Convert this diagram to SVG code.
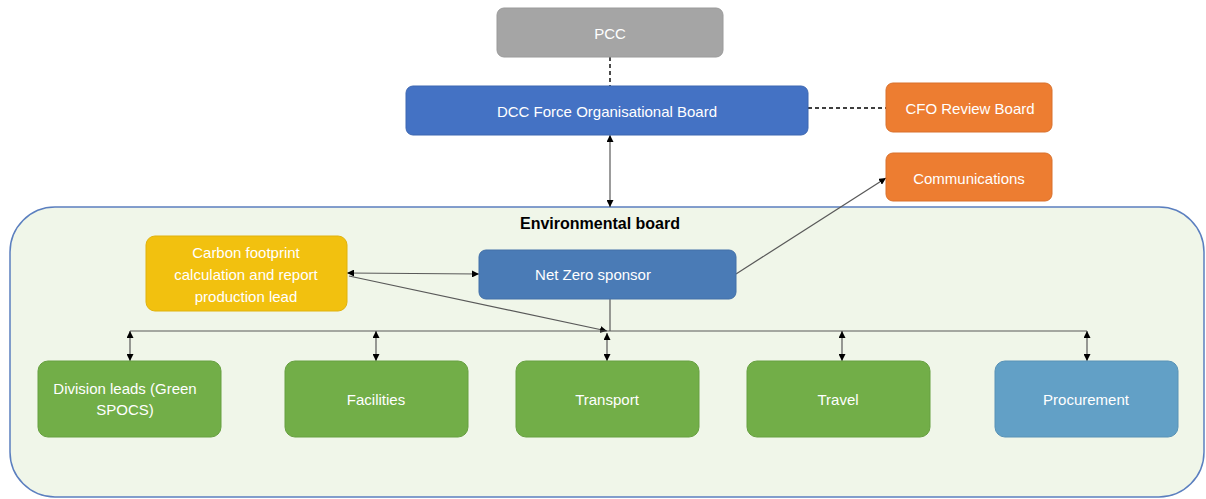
<svg xmlns="http://www.w3.org/2000/svg" width="1206" height="499" viewBox="0 0 1206 499">
<style>
  .lbl { font-family: "Liberation Sans", Arial, sans-serif; font-size: 15px; fill: #ffffff; text-anchor: middle; dominant-baseline: central; }
  .title { font-family: "Liberation Sans", Arial, sans-serif; font-size: 16px; font-weight: bold; fill: #000000; text-anchor: middle; dominant-baseline: central; }
  .box { stroke-width: 1; }
  .line { stroke: #595959; stroke-width: 1.2; fill: none; }
  .dash { stroke: #000000; stroke-width: 1.4; stroke-dasharray: 4 3; fill: none; }
</style>
<defs>
  <marker id="ah" viewBox="0 0 10 10" refX="10" refY="5" markerWidth="7" markerHeight="7" orient="auto-start-reverse" markerUnits="userSpaceOnUse">
    <path d="M0,0 L10,5 L0,10 z" fill="#000000"/>
  </marker>
</defs>
<rect width="1206" height="499" fill="#ffffff"/>

<g id="environmental-board">
  <rect x="10" y="207" width="1194" height="290" rx="45" fill="#f0f6e9" stroke="#5b7fbf" stroke-width="1.5"/>
  <text class="title" x="600" y="223">Environmental board</text>
</g>

<g id="connectors">
  <line class="dash" x1="610" y1="57" x2="610" y2="86"/>
  <line class="dash" x1="808" y1="108" x2="886" y2="108"/>
  <line class="line" x1="610" y1="135" x2="610" y2="207" marker-start="url(#ah)" marker-end="url(#ah)"/>
  <line class="line" x1="347" y1="273" x2="479" y2="274" marker-start="url(#ah)" marker-end="url(#ah)"/>
  <line class="line" x1="736" y1="274" x2="886" y2="178" marker-end="url(#ah)"/>
  <line class="line" x1="349" y1="276" x2="607" y2="331" marker-end="url(#ah)"/>
  <line class="line" x1="610" y1="299" x2="610" y2="331"/>
  <line class="line" x1="130" y1="331" x2="1087" y2="331"/>
  <line class="line" x1="130" y1="331" x2="130" y2="361" marker-start="url(#ah)" marker-end="url(#ah)"/>
  <line class="line" x1="376" y1="331" x2="376" y2="361" marker-start="url(#ah)" marker-end="url(#ah)"/>
  <line class="line" x1="607" y1="333" x2="607" y2="361" marker-start="url(#ah)" marker-end="url(#ah)"/>
  <line class="line" x1="842" y1="331" x2="842" y2="361" marker-start="url(#ah)" marker-end="url(#ah)"/>
  <line class="line" x1="1087" y1="331" x2="1087" y2="361" marker-start="url(#ah)" marker-end="url(#ah)"/>
</g>

<g id="pcc">
  <rect class="box" x="497" y="8" width="226" height="49" rx="7" fill="#a5a5a5" stroke="#9a9a9a"/>
  <text class="lbl" x="610" y="33">PCC</text>
</g>
<g id="dcc-board">
  <rect class="box" x="406" y="86" width="402" height="49" rx="7" fill="#4472c4" stroke="#3d67b1"/>
  <text class="lbl" x="607" y="111">DCC Force Organisational Board</text>
</g>
<g id="cfo-review-board">
  <rect class="box" x="886" y="83" width="166" height="49" rx="7" fill="#ed7d31" stroke="#d9712c"/>
  <text class="lbl" x="970" y="108">CFO Review Board</text>
</g>
<g id="communications">
  <rect class="box" x="886" y="153" width="166" height="48" rx="7" fill="#ed7d31" stroke="#d9712c"/>
  <text class="lbl" x="969" y="178">Communications</text>
</g>
<g id="carbon-footprint">
  <rect class="box" x="146" y="236" width="201" height="75" rx="9" fill="#f2c10f" stroke="#e0b20c"/>
  <text class="lbl" x="246" y="252">Carbon footprint</text>
  <text class="lbl" x="246" y="274">calculation and report</text>
  <text class="lbl" x="246" y="296">production lead</text>
</g>
<g id="net-zero-sponsor">
  <rect class="box" x="479" y="250" width="257" height="49" rx="7" fill="#4a7bb6" stroke="#4270a8"/>
  <text class="lbl" x="593" y="274">Net Zero sponsor</text>
</g>
<g id="division-leads">
  <rect class="box" x="38" y="361" width="183" height="76" rx="10" fill="#72ae48" stroke="#67a040"/>
  <text class="lbl" x="125" y="388">Division leads (Green</text>
  <text class="lbl" x="125" y="409">SPOCS)</text>
</g>
<g id="facilities">
  <rect class="box" x="285" y="361" width="183" height="76" rx="10" fill="#72ae48" stroke="#67a040"/>
  <text class="lbl" x="376" y="399">Facilities</text>
</g>
<g id="transport">
  <rect class="box" x="516" y="361" width="183" height="76" rx="10" fill="#72ae48" stroke="#67a040"/>
  <text class="lbl" x="607" y="399">Transport</text>
</g>
<g id="travel">
  <rect class="box" x="747" y="361" width="183" height="76" rx="10" fill="#72ae48" stroke="#67a040"/>
  <text class="lbl" x="838" y="399">Travel</text>
</g>
<g id="procurement">
  <rect class="box" x="995" y="361" width="183" height="76" rx="10" fill="#62a0c6" stroke="#5892b6"/>
  <text class="lbl" x="1086" y="399">Procurement</text>
</g>
</svg>
